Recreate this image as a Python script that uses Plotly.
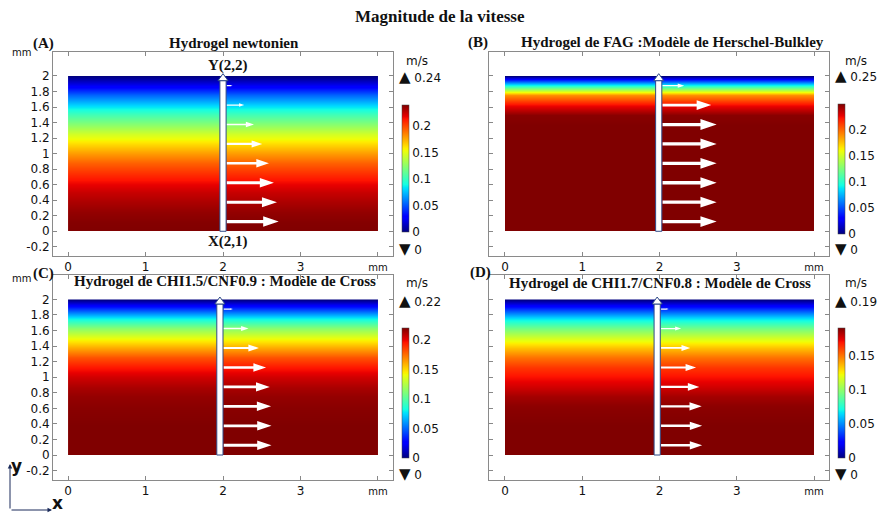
import plotly.graph_objects as go

W, H = 878, 514

# ---------------- data ----------------
y_levels = [0.0, 0.125, 0.25, 0.375, 0.5, 0.625, 0.75, 0.875, 1.0,
            1.125, 1.25, 1.375, 1.5, 1.625, 1.75, 1.875, 2.0]          # mm
vel_newtonien = [0.240, 0.239, 0.236, 0.231, 0.225, 0.217, 0.206, 0.194, 0.180,
                 0.163, 0.145, 0.125, 0.104, 0.080, 0.054, 0.026, 0.0]   # m/s
vel_herschel = [0.250, 0.250, 0.250, 0.250, 0.250, 0.250, 0.250, 0.250, 0.250,
                0.250, 0.250, 0.250, 0.248, 0.225, 0.190, 0.100, 0.0]
vel_cross_15 = [0.220, 0.220, 0.220, 0.220, 0.219, 0.218, 0.216, 0.212, 0.205,
                0.195, 0.181, 0.162, 0.140, 0.114, 0.080, 0.042, 0.0]
vel_cross_17 = [0.190, 0.190, 0.190, 0.190, 0.189, 0.188, 0.184, 0.177, 0.170,
                0.162, 0.150, 0.135, 0.116, 0.093, 0.066, 0.035, 0.0]
vel_max = [0.24, 0.25, 0.22, 0.19]
cbar_ticks = [[0, 0.05, 0.1, 0.15, 0.2],
              [0, 0.05, 0.1, 0.15, 0.2],
              [0, 0.05, 0.1, 0.15, 0.2],
              [0, 0.05, 0.1, 0.15]]
cbar_ticktext = [["0", "0.05", "0.1", "0.15", "0.2"],
                 ["0", "0.05", "0.1", "0.15", "0.2"],
                 ["0", "0.05", "0.1", "0.15", "0.2"],
                 ["0", "0.05", "0.1", "0.15"]]
panel_letters = ["(A)", "(B)", "(C)", "(D)"]
panel_titles = ["Hydrogel newtonien",
                "Hydrogel de FAG :Modèle de Herschel-Bulkley",
                "Hydrogel de CHI1.5/CNF0.9 : Modèle de Cross",
                "Hydrogel de CHI1.7/CNF0.8 : Modèle de Cross"]
main_title = "Magnitude de la vitesse"
x_tickvals = [0, 1, 2, 3, 4]
x_ticktext = ["0", "1", "2", "3", '<span style="font-size:10px">mm</span>']
y_tickvals = [-0.2, 0, 0.2, 0.4, 0.6, 0.8, 1, 1.2, 1.4, 1.6, 1.8, 2]
y_ticktext = ["-0.2", "0", "0.2", "0.4", "0.6", "0.8", "1", "1.2", "1.4", "1.6", "1.8", "2"]
cut_x = [2.0, 1.99, 1.96, 1.97]
channel_width = 4.0
channel_height = 2.0
arrow_scale = 2.8   # mm per (m/s)

profiles = [vel_newtonien, vel_herschel, vel_cross_15, vel_cross_17]

# ---------------- styling / layout ----------------
jet = [[0.0, "rgb(0,0,128)"], [0.11, "rgb(0,0,255)"], [0.125, "rgb(0,0,255)"],
       [0.34, "rgb(0,219,255)"], [0.35, "rgb(0,230,247)"], [0.375, "rgb(21,255,226)"],
       [0.64, "rgb(239,255,8)"], [0.65, "rgb(247,245,0)"], [0.66, "rgb(255,236,0)"],
       [0.89, "rgb(255,19,0)"], [0.91, "rgb(232,0,0)"], [1.0, "rgb(128,0,0)"]]

# frame boxes in pixels: left, top, right, bottom
frames = [(53, 52, 393, 255.5), (489, 52, 829, 255.5),
          (53, 274.5, 393, 480), (489, 274.5, 829, 480)]
xranges = [[-0.194, 4.194], [-0.207, 4.194], [-0.194, 4.194], [-0.207, 4.194]]
yranges = [[-0.312, 2.309], [-0.312, 2.309], [-0.321, 2.319], [-0.321, 2.319]]
show_ylabels = [True, False, True, False]
# colourbar: bar left x, top, bottom (px)
cbars = [(402, 105, 232), (838, 104, 234), (402, 328, 458), (838, 328, 458)]
unit_pos = [(417, 61), (856, 61), (417, 283), (856, 283)]
max_pos = [(397, 77), (833, 76), (397, 301), (833, 301)]
min_pos = [(397, 249), (833, 249), (397, 474), (833, 474)]
letter_pos = [(43, 43), (478, 42), (43, 273), (480, 272)]
title_pos = [(234, 43), (672.5, 42), (224.5, 281), (659.5, 283)]
mm_pos = [(21, 53), None, (21, 278), None]

SERIF = "Liberation Serif"
SANS = "DejaVu Sans"
TRI = '<span style="font-size:15px">{}</span>'


def px(xp):
    return xp / W


def py(yp):
    return 1 - yp / H


fig = go.Figure()
layout = dict(width=W, height=H, margin=dict(l=0, r=0, t=0, b=0),
              paper_bgcolor="white", plot_bgcolor="white", showlegend=False)
annotations = []
shapes = []

for i in range(4):
    n = "" if i == 0 else str(i + 1)
    xa, ya = "x" + n, "y" + n
    vel = profiles[i]
    fig.add_trace(go.Contour(
        x=[0, channel_width], y=y_levels, z=[[v, v] for v in vel],
        coloraxis="coloraxis" + n,
        contours=dict(coloring="heatmap", showlines=False),
        line=dict(width=0), xaxis=xa, yaxis=ya, hoverinfo="skip"))

    l, t, r, b = frames[i]
    layout["xaxis" + n] = dict(
        domain=[px(l), px(r)], range=xranges[i], anchor=ya,
        tickvals=x_tickvals, ticktext=x_ticktext, ticks="inside", ticklen=4,
        tickcolor="#888", showline=True, linecolor="#8a8a8a", linewidth=1,
        mirror="ticks", showgrid=False, zeroline=False,
        tickfont=dict(family=SANS, size=12, color="#111"))
    layout["yaxis" + n] = dict(
        domain=[py(b), py(t)], range=yranges[i], anchor=xa,
        tickvals=y_tickvals, ticktext=y_ticktext, ticks="inside", ticklen=4,
        tickcolor="#888", showline=True, linecolor="#8a8a8a", linewidth=1,
        mirror="ticks", showgrid=False, zeroline=False,
        showticklabels=show_ylabels[i],
        tickfont=dict(family=SANS, size=12, color="#111"))

    bx, btop, bbot = cbars[i]
    layout["coloraxis" + n] = dict(
        colorscale=jet, cmin=0, cmax=vel_max[i],
        colorbar=dict(x=px(bx), xanchor="left", xpad=0, ypad=0,
                      y=py((btop + bbot) / 2), yanchor="middle",
                      len=bbot - btop, lenmode="pixels",
                      thickness=7, thicknessmode="pixels",
                      outlinewidth=0.5, outlinecolor="#444",
                      tickvals=cbar_ticks[i], ticktext=cbar_ticktext[i],
                      ticks="", ticklabelposition="outside",
                      tickfont=dict(family=SANS, size=12, color="#111")))

    # cut line (white arrow with dark outline)
    xc = cut_x[i]
    shapes.append(dict(type="rect", xref=xa, yref=ya, x0=xc - 0.04, x1=xc + 0.04,
                       y0=0, y1=channel_height - 0.06,
                       fillcolor="white", line=dict(color="#2f4a88", width=1), layer="above"))
    shapes.append(dict(type="path", xref=xa, yref=ya,
                       path=f"M {xc-0.065},{channel_height-0.06} L {xc+0.065},{channel_height-0.06} "
                            f"L {xc},{channel_height+0.03} Z",
                       fillcolor="white", line=dict(color="#2f4a88", width=1), layer="above"))

    # velocity arrows at odd sample levels
    for k in range(1, len(y_levels), 2):
        yv = y_levels[k]
        L = vel[k] * arrow_scale
        if L <= 0:
            continue
        x0 = xc + 0.05
        x1 = x0 + L
        xh = x1 - 0.3 * L
        w = 0.1 * L
        th = max(0.03 * L, 0.008)
        path = (f"M {x0},{yv-th} L {xh},{yv-th} L {xh},{yv-w} L {x1},{yv} "
                f"L {xh},{yv+w} L {xh},{yv+th} L {x0},{yv+th} Z")
        shapes.append(dict(type="path", xref=xa, yref=ya, path=path,
                           fillcolor="white", line=dict(width=0), layer="above"))

    # texts
    ux, uy = unit_pos[i]
    annotations.append(dict(x=px(ux), y=py(uy), xref="paper", yref="paper", text="m/s",
                            showarrow=False, xanchor="center", yanchor="middle",
                            font=dict(family=SANS, size=12, color="#111")))
    mx, my = max_pos[i]
    annotations.append(dict(x=px(mx), y=py(my), xref="paper", yref="paper",
                            text=TRI.format("▲") + f" {vel_max[i]:g}", showarrow=False,
                            xanchor="left", yanchor="middle",
                            font=dict(family=SANS, size=12, color="#111")))
    nx, ny = min_pos[i]
    annotations.append(dict(x=px(nx), y=py(ny), xref="paper", yref="paper",
                            text=TRI.format("▼") + " 0", showarrow=False,
                            xanchor="left", yanchor="middle",
                            font=dict(family=SANS, size=12, color="#111")))
    lx, ly = letter_pos[i]
    annotations.append(dict(x=px(lx), y=py(ly), xref="paper", yref="paper",
                            text=f"<b>{panel_letters[i]}</b>", showarrow=False,
                            xanchor="center", yanchor="middle",
                            font=dict(family=SERIF, size=15, color="#111")))
    tx, ty = title_pos[i]
    annotations.append(dict(x=px(tx), y=py(ty), xref="paper", yref="paper",
                            text=f"<b>{panel_titles[i]}</b>", showarrow=False,
                            xanchor="center", yanchor="middle",
                            font=dict(family=SERIF, size=15, color="#111")))
    if mm_pos[i] is not None:
        mmx, mmy = mm_pos[i]
        annotations.append(dict(x=px(mmx), y=py(mmy), xref="paper", yref="paper",
                                text="mm", showarrow=False, xanchor="center", yanchor="middle",
                                font=dict(family=SANS, size=10, color="#111")))

# cut-line point labels in panel A
annotations.append(dict(x=cut_x[0] + 0.065, y=channel_height + 0.13, xref="x", yref="y",
                        text="<b>Y(2,2)</b>", showarrow=False, xanchor="center", yanchor="middle",
                        font=dict(family=SERIF, size=15, color="#111")))
annotations.append(dict(x=cut_x[0] + 0.065, y=-0.13, xref="x", yref="y",
                        text="<b>X(2,1)</b>", showarrow=False, xanchor="center", yanchor="middle",
                        font=dict(family=SERIF, size=15, color="#111")))

# main title
annotations.append(dict(x=px(440), y=py(17), xref="paper", yref="paper",
                        text=f"<b>{main_title}</b>", showarrow=False,
                        xanchor="center", yanchor="middle",
                        font=dict(family=SERIF, size=17, color="#111")))

# coordinate triad (bottom-left)
annotations.append(dict(x=px(10), y=py(464), xref="paper", yref="paper", text="",
                        showarrow=True, ax=0, ay=46, axref="pixel", ayref="pixel",
                        arrowhead=2, arrowsize=0.9, arrowwidth=1, arrowcolor="#1a2a5a"))
annotations.append(dict(x=px(52), y=py(510), xref="paper", yref="paper", text="",
                        showarrow=True, ax=-42, ay=0, axref="pixel", ayref="pixel",
                        arrowhead=2, arrowsize=0.9, arrowwidth=1, arrowcolor="#1a2a5a"))
annotations.append(dict(x=px(16), y=py(466), xref="paper", yref="paper", text="<b>y</b>",
                        showarrow=False, xanchor="center", yanchor="middle",
                        font=dict(family=SANS, size=17, color="#111")))
annotations.append(dict(x=px(57), y=py(503), xref="paper", yref="paper", text="<b>x</b>",
                        showarrow=False, xanchor="center", yanchor="middle",
                        font=dict(family=SANS, size=17, color="#111")))

layout["annotations"] = annotations
layout["shapes"] = shapes
fig.update_layout(**layout)
fig.write_html("out.html", config={"displayModeBar": False},
               post_script="document.body.style.margin='0px';document.body.style.overflow='hidden';")
